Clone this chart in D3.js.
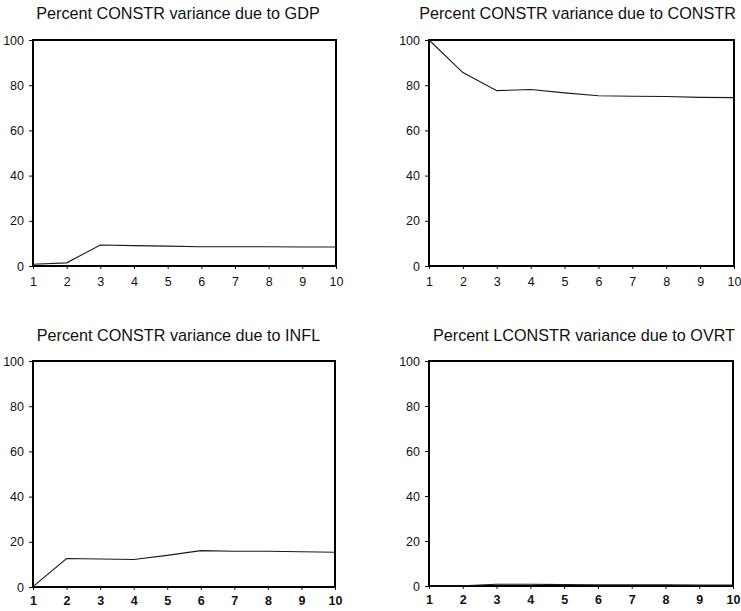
<!DOCTYPE html>
<html>
<head>
<meta charset="utf-8">
<script src="https://cdn.jsdelivr.net/npm/d3@7"></script>
<style>
  html, body { margin: 0; padding: 0; background: #fff; }
  svg { display: block; font-family: "Liberation Sans", Arial, sans-serif; }
</style>
</head>
<body>
<svg id="chart" width="741" height="611"></svg>
<script>
// Forecast horizon (periods) and variance-decomposition shares, in percent
const horizon = [1, 2, 3, 4, 5, 6, 7, 8, 9, 10];
const yTicks = [0, 20, 40, 60, 80, 100];

const shareGDP    = [0.8, 1.4, 9.3, 9.0, 8.8, 8.5, 8.5, 8.5, 8.4, 8.4];
const shareCONSTR = [100, 85.6, 77.6, 78.1, 76.6, 75.3, 75.1, 75.0, 74.6, 74.5];
const shareINFL   = [0.2, 12.6, 12.4, 12.2, 14.0, 16.1, 15.8, 15.8, 15.6, 15.4];
const shareOVRT   = [0.0, 0.1, 0.8, 0.8, 0.6, 0.5, 0.5, 0.5, 0.4, 0.4];

const titles = [
  "Percent CONSTR variance due to GDP",
  "Percent CONSTR variance due to CONSTR",
  "Percent CONSTR variance due to INFL",
  "Percent LCONSTR variance due to OVRT"
];

const series = [shareGDP, shareCONSTR, shareINFL, shareOVRT];

// Plot boxes for the 2x2 grid
const boxes = [
  { x0: 33,  x1: 336, y0: 40,  y1: 266, tx: 178,   ty: 19,  boldX: false, pad: 8 },
  { x0: 429, x1: 734, y0: 40,  y1: 266, tx: 577.5, ty: 19,  boldX: false, pad: 8 },
  { x0: 33,  x1: 335, y0: 361, y1: 587, tx: 178.5, ty: 341, boldX: true,  pad: 6 },
  { x0: 429, x1: 733, y0: 361, y1: 586, tx: 584,   ty: 341, boldX: true,  pad: 6 }
];

const svg = d3.select("#chart");

boxes.forEach((b, i) => {
  const x = d3.scaleLinear().domain([1, 10]).range([b.x0, b.x1]);
  const y = d3.scaleLinear().domain([0, 100]).range([b.y1, b.y0]);
  const g = svg.append("g");

  // Title
  g.append("text")
    .attr("x", b.tx)
    .attr("y", b.ty)
    .attr("text-anchor", "middle")
    .attr("font-size", 16.2)
    .attr("fill", "#111")
    .text(titles[i]);

  // Y axis
  const ya = g.append("g")
    .attr("transform", `translate(${b.x0},0)`)
    .call(d3.axisLeft(y).tickValues(yTicks).tickSize(4).tickPadding(5));
  ya.select(".domain").remove();
  ya.selectAll("text").attr("font-size", 12.5).attr("fill", "#111")
    .attr("font-family", "Liberation Sans, Arial, sans-serif");
  ya.selectAll("line").attr("stroke", "#111");

  // X axis
  const xa = g.append("g")
    .attr("transform", `translate(0,${b.y1})`)
    .call(d3.axisBottom(x).tickValues(horizon).tickFormat(d3.format("d")).tickSize(3).tickPadding(b.pad));
  xa.select(".domain").remove();
  xa.selectAll("text").attr("font-size", 12.5).attr("fill", "#111")
    .attr("font-weight", b.boldX ? "bold" : "normal")
    .attr("font-family", "Liberation Sans, Arial, sans-serif");
  xa.selectAll("line").attr("stroke", "#111");

  // Frame
  g.append("rect")
    .attr("x", b.x0)
    .attr("y", b.y0)
    .attr("width", b.x1 - b.x0)
    .attr("height", b.y1 - b.y0)
    .attr("fill", "none")
    .attr("stroke", "#000")
    .attr("stroke-width", 2);

  // Share line
  const line = d3.line()
    .x((d, k) => x(horizon[k]))
    .y(d => y(d));
  g.append("path")
    .datum(series[i])
    .attr("d", line)
    .attr("fill", "none")
    .attr("stroke", "#1a1a1a")
    .attr("stroke-width", 1.1);
});
</script>
</body>
</html>
